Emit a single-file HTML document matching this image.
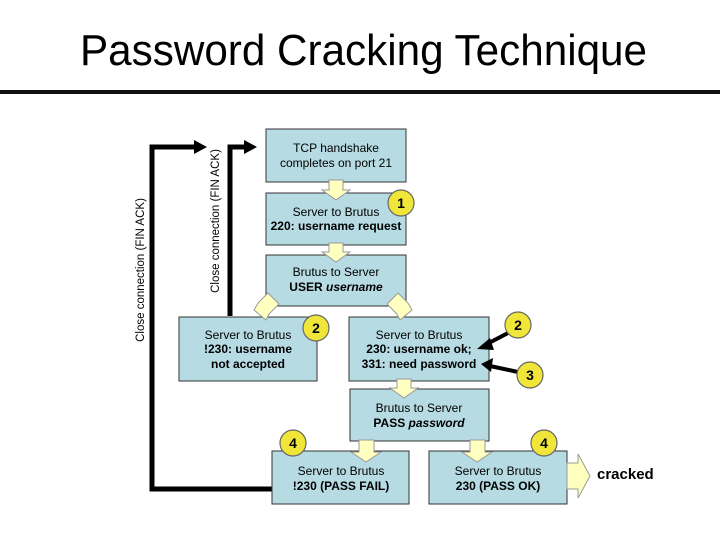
<!DOCTYPE html>
<html><head><meta charset="utf-8"><style>
html,body{margin:0;padding:0;background:#fff}
svg{display:block}
text{font-family:"Liberation Sans",Arial,sans-serif}
</style></head><body>
<svg width="720" height="540" viewBox="0 0 720 540" xmlns="http://www.w3.org/2000/svg">
<text x="80" y="65" font-size="44" textLength="567" lengthAdjust="spacingAndGlyphs">Password Cracking Technique</text>
<rect x="0" y="90" width="720" height="4" fill="#111"/>

<polyline points="272,489 152,489 152,147 196,147" fill="none" stroke="#000" stroke-width="5"/>
<polygon points="194,140 207,147 194,154" fill="#000"/>
<polyline points="230,316 230,147 246,147" fill="none" stroke="#000" stroke-width="5"/>
<polygon points="244,140 257,147 244,154" fill="#000"/>
<text transform="translate(219,221) rotate(-90)" font-size="11.5" text-anchor="middle">Close connection (FIN ACK)</text>
<text transform="translate(144,270) rotate(-90)" font-size="11.5" text-anchor="middle">Close connection (FIN ACK)</text>

<g fill="#b7dbe3" stroke="#333" stroke-width="1">
<rect x="266" y="129" width="140" height="53"/>
<rect x="266" y="193" width="140" height="52"/>
<rect x="266" y="255" width="140" height="51"/>
<rect x="179" y="317" width="138" height="64"/>
<rect x="349" y="317" width="140" height="64"/>
<rect x="350" y="389" width="139" height="52"/>
<rect x="272" y="451" width="137" height="53"/>
<rect x="429" y="451" width="138" height="53"/>
</g>

<g fill="#ffffc0" stroke="#999" stroke-width="1">
<polygon points="329,180 343,180 343,190 350,190 336,200 322,190 329,190"/>
<polygon points="329,243 343,243 343,252 350,252 336,262 322,252 329,252"/>
<polygon points="397,379 411,379 411,388 418,388 404,398 390,388 397,388"/>
<polygon points="359,440 374,440 374,452 381,452 366,462 351,452 359,452"/>
<polygon points="470,440 485,440 485,452 492,452 477,462 462,452 470,452"/>
<polygon points="268,293 279,304 269,314 266,320 254,310 258,303"/>
<polygon points="398,293 387,304 397,314 400,320 412,310 408,303"/>
<polygon points="567,463 578,463 578,454 590,476 578,498 578,489 567,489"/>
</g>

<line x1="508" y1="333" x2="485" y2="345" stroke="#000" stroke-width="4"/>
<polygon points="477,349 490,338 494,350" fill="#000"/>
<line x1="518" y1="372" x2="490" y2="366" stroke="#000" stroke-width="4"/>
<polygon points="481,364 493,358 491,372" fill="#000"/>

<g fill="#f0e63a" stroke="#666" stroke-width="1.2">
<circle cx="401" cy="203" r="13"/>
<circle cx="316" cy="328" r="13"/>
<circle cx="518" cy="325" r="13"/>
<circle cx="530" cy="375" r="13"/>
<circle cx="293" cy="443" r="13"/>
<circle cx="544" cy="443" r="13"/>
</g>
<g font-size="14" font-weight="bold" text-anchor="middle">
<text x="401" y="208">1</text><text x="316" y="333">2</text><text x="518" y="330">2</text>
<text x="530" y="380">3</text><text x="293" y="448">4</text><text x="544" y="448">4</text>
</g>

<g font-size="12" text-anchor="middle">
<text x="336" y="152">TCP handshake</text>
<text x="336" y="167">completes on port 21</text>
<text x="336" y="216">Server to Brutus</text>
<text x="336" y="230" font-weight="bold">220: username request</text>
<text x="336" y="276">Brutus to Server</text>
<text x="336" y="291" font-weight="bold">USER <tspan font-style="italic">username</tspan></text>
<text x="248" y="339">Server to Brutus</text>
<text x="248" y="353" font-weight="bold">!230: username</text>
<text x="248" y="368" font-weight="bold">not accepted</text>
<text x="419" y="339">Server to Brutus</text>
<text x="419" y="353" font-weight="bold">230: username ok;</text>
<text x="419" y="368" font-weight="bold">331: need password</text>
<text x="419" y="412">Brutus to Server</text>
<text x="419" y="427" font-weight="bold">PASS <tspan font-style="italic">password</tspan></text>
<text x="341" y="475">Server to Brutus</text>
<text x="341" y="490" font-weight="bold">!230 (PASS FAIL)</text>
<text x="498" y="475">Server to Brutus</text>
<text x="498" y="490" font-weight="bold">230 (PASS OK)</text>
</g>
<text x="597" y="479" font-size="15" font-weight="bold">cracked</text>
</svg>
</body></html>
